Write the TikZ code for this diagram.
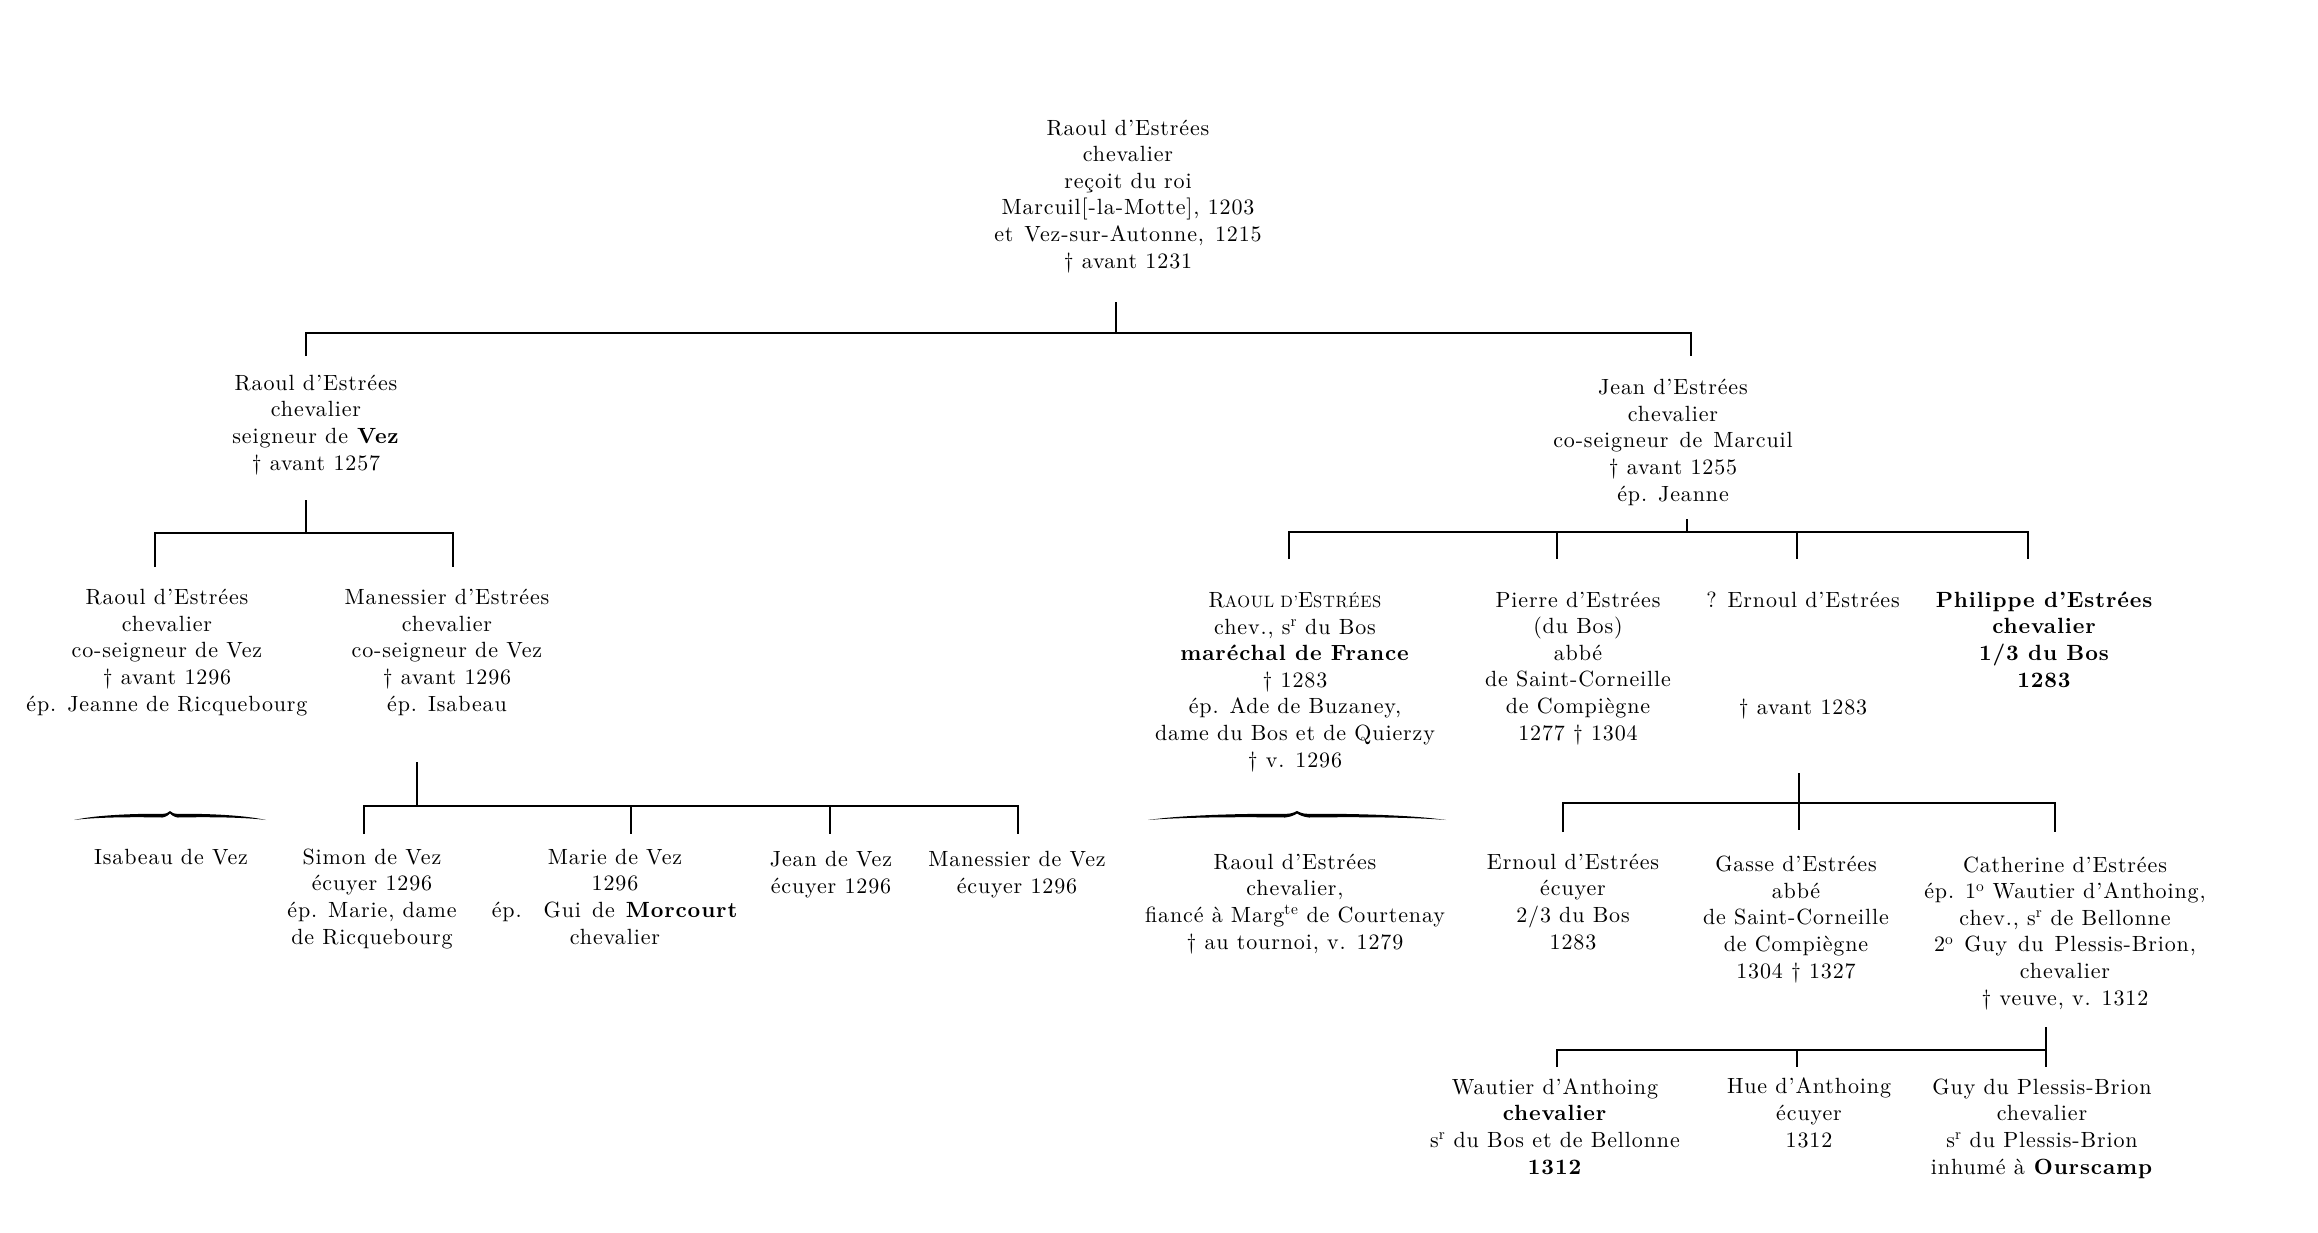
\documentclass[tikz,border=0pt]{standalone}
\usepackage{fontspec}
\setmainfont{lmroman10}[Extension=.otf,UprightFont=*-regular,BoldFont=*-bold,ItalicFont=*-italic,LetterSpace=4]
\newcommand{\smc}[1]{{\fontsize{16.5}{26.6}\selectfont #1}}
\tikzset{
	person/.style={align=center,anchor=base,inner sep=0pt,font=\fontsize{22}{26.6}\selectfont},
	lord/.style={person,font=\fontsize{22}{26.6}\selectfont\bfseries},
	bar/.style={line width=2.6pt},
	swash/.pic={\fill (-1,5) .. controls (-0.75,-0.5) and (-0.3,-1.5) .. (-0.07,-1.2)
		.. controls (-0.03,-1.2) and (-0.01,-3.5) .. (0,-4)
		.. controls (0.01,-3.5) and (0.03,-1.2) .. (0.07,-1.2)
		.. controls (0.3,-1.5) and (0.75,-0.5) .. (1,5)
		.. controls (0.75,1.8) and (0.3,2) .. (0.08,2.5)
		.. controls (0.04,2) and (0.01,-0.5) .. (0,-1.5)
		.. controls (-0.01,-0.5) and (-0.04,2) .. (-0.08,2.5)
		.. controls (-0.3,2) and (-0.75,1.8) .. (-1,5) -- cycle;}
}
\begin{document}
\begin{tikzpicture}[x=1pt,y=-1pt]
	\useasboundingbox[fill=white] (0,0) rectangle (2318,1232);
	\node[person] (raoul1) at (1128,268) {Raoul d'Estrées\\chevalier\\reçoit du roi\\Marcuil[-la-Motte], 1203\\et\enspace Vez-sur-Autonne,\enspace 1215\\\textdagger\ avant 1231};
	\node[person] (raoul2) at (316,470) {Raoul d'Estrées\\chevalier\\seigneur de \textbf{Vez}\\\textdagger\ avant 1257};
	\node[person] (jean) at (1673,501) {Jean d'Estrées\\chevalier\\co-seigneur\enspace de\enspace Marcuil\\\textdagger\ avant 1255\\ép. Jeanne};
	\node[person] (raoul3) at (167,711) {Raoul d'Estrées\\chevalier\\co-seigneur de Vez\\\textdagger\ avant 1296\\ép. Jeanne de Ricquebourg};
	\node[person] (manessier) at (447,711) {Manessier d'Estrées\\chevalier\\co-seigneur de Vez\\\textdagger\ avant 1296\\ép. Isabeau};
	\node[person] (isabeau) at (171,864) {Isabeau de Vez};
	\node[person] (simon) at (372,944) {Simon de Vez\\écuyer 1296\\ép. Marie, dame\\de Ricquebourg};
	\node[person] (marie) at (615,944) {Marie de Vez\\1296\\ép.\quad Gui\enspace de\enspace \textbf{Morcourt}\\chevalier};
	\node[person] (jeanv) at (831,893) {Jean de Vez\\écuyer 1296};
	\node[person] (manessierv) at (1017,893) {Manessier de Vez\\écuyer 1296};
	\node[person] (raoulm) at (1295,767) {R\smc{AOUL D'}E\smc{STRÉES}\\chev., s\textsuperscript{r} du Bos\\\textbf{maréchal de France}\\\textdagger\ 1283\\ép. Ade de Buzaney,\\dame du Bos et de Quierzy\\\textdagger\ v. 1296};
	\node[person] (pierre) at (1578,740) {Pierre d'Estrées\\(du Bos)\\abbé\\de Saint-Corneille\\de Compiègne\\1277 \textdagger\ 1304};
	\node[person] (ernoul1) at (1803,714) {? Ernoul d'Estrées\\[80pt]\textdagger\ avant 1283};
	\node[lord] (philippe) at (2044,687) {Philippe d'Estrées\\chevalier\\1/3 du Bos\\1283};
	\node[person] (raoulf) at (1295,949) {Raoul d'Estrées\\chevalier,\\fiancé à Marg\textsuperscript{te} de Courtenay\\\textdagger\ au tournoi, v. 1279};
	\node[person] (ernoul2) at (1573,949) {Ernoul d'Estrées\\écuyer\\2/3 du Bos\\1283};
	\node[person] (gasse) at (1796,978) {Gasse d'Estrées\\abbé\\de Saint-Corneille\\de Compiègne\\1304 \textdagger\ 1327};
	\node[person] (catherine) at (2065,1005) {Catherine d'Estrées\\ép.\enspace 1\textsuperscript{o} Wautier d'Anthoing,\\chev., s\textsuperscript{r} de Bellonne\\2\textsuperscript{o}\enspace Guy\enspace du\enspace Plessis-Brion,\\chevalier\\\textdagger\ veuve, v. 1312};
	\node[person] (wautier) at (1555,1174) {Wautier d'Anthoing\\\textbf{chevalier}\\s\textsuperscript{r} du Bos et de Bellonne\\\textbf{1312}};
	\node[person] (hue) at (1809,1147) {Hue d'Anthoing\\écuyer\\1312};
	\node[person] (guy) at (2042,1174) {Guy du Plessis-Brion\\chevalier\\s\textsuperscript{r} du Plessis-Brion\\inhumé à \textbf{Ourscamp}};
	\coordinate (t1) at (1116,302);
	\coordinate (t1a) at (306,333);
	\coordinate (t1b) at (1691,333);
	\draw[bar] (t1) -- (t1 |- t1a);
	\draw[bar] (t1a) ++(0,23) -- (t1a) -- (t1b) -- ++(0,23);
	\coordinate (t2) at (306,500);
	\coordinate (t2a) at (155,533);
	\coordinate (t2b) at (453,533);
	\draw[bar] (t2) -- (t2 |- t2a);
	\draw[bar] (t2a) ++(0,34) -- (t2a) -- (t2b) -- ++(0,34);
	\coordinate (t3) at (1687,519);
	\coordinate (t3a) at (1289,532);
	\coordinate (t3b) at (2028,532);
	\draw[bar] (t3) -- (t3 |- t3a);
	\draw[bar] (t3a) ++(0,27) -- (t3a) -- (t3b) -- ++(0,27);
	\foreach \x in {1557,1797}
	\draw[bar] (t3a -| \x,0) -- ++(0,27);
	\coordinate (t4) at (417,762);
	\coordinate (t4a) at (364,806);
	\coordinate (t4b) at (1018,806);
	\draw[bar] (t4) -- (t4 |- t4a);
	\draw[bar] (t4a) ++(0,28) -- (t4a) -- (t4b) -- ++(0,28);
	\foreach \x in {631,830}
	\draw[bar] (t4a -| \x,0) -- ++(0,28);
	\coordinate (t5) at (1799,773);
	\coordinate (t5a) at (1563,803);
	\coordinate (t5b) at (2055,803);
	\draw[bar] (t5) -- ++(0,57);
	\draw[bar] (t5a) ++(0,29) -- (t5a) -- (t5b) -- ++(0,29);
	\coordinate (t6) at (2046,1027);
	\coordinate (t6a) at (1557,1050);
	\coordinate (t6b) at (2046,1050);
	\draw[bar] (t6) -- ++(0,40);
	\draw[bar] (t6a) ++(0,17) -- (t6a) -- (t6b);
	\draw[bar] (t6a -| 1797,0) -- ++(0,17);
	\pic[xscale=96] at (170,815) {swash};
	\pic[xscale=149] at (1297,815) {swash};
\end{tikzpicture}
\end{document}
